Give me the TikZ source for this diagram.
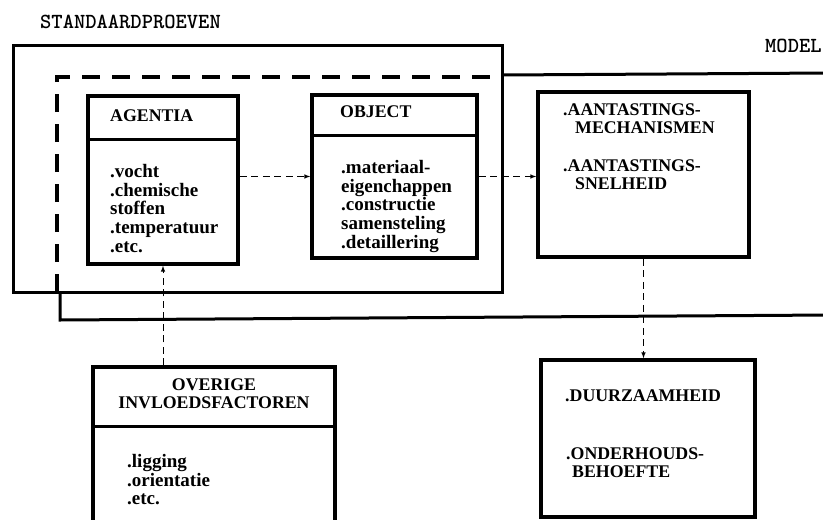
\documentclass[tikz,border=0pt]{standalone}
\usepackage{fontspec}
\setmainfont{Liberation Serif}
\usepackage{tikz}
\usetikzlibrary{arrows}
\usetikzlibrary{positioning}

\tikzset{
  blok/.style={draw, line width=3.5pt, inner sep=0pt},
  scheiding/.style={line width=2.5pt},
  kader/.style={line width=3pt},
  kop/.style={font=\fontsize{17.8}{17.5}\selectfont\bfseries, inner sep=0pt, align=left},
  lijst/.style={font=\fontsize{19}{18.7}\selectfont\bfseries, inner sep=0pt, align=left},
  etiket/.style={font=\fontsize{21.5}{21.5}\selectfont\ttfamily\bfseries, inner sep=0pt, anchor=base west},
  pijl/.style={line width=1pt, dash pattern=on 7pt off 4.5pt, -latex},
}

\begin{document}
\begin{tikzpicture}[x=1pt,y=-1pt]
    \clip (0,0) rectangle (823,520);
    % kaders standaardproeven en model
    \draw[kader] (13,45) rectangle (502,292);
    \draw[kader] (502,75) -- (830,73);
    \draw[kader] (60,292) -- (60,320) -- (830,315);
    \draw[line width=4pt, dash pattern=on 18pt off 12pt] (57,292) -- (57,77) -- (497,77);
    \node[etiket] (standaard) at (40,28) {STANDAARDPROEVEN};
    \node[etiket] (model) at (765,52) {MODEL};
    % blokken
    \node[blok, minimum width=150, minimum height=168] (agentia) at (163,180) {};
    \draw[scheiding] (agentia.north west) ++(0,45) -- ++(150,0);
    \node[blok, minimum width=165, minimum height=163] (object) at (394.5,176.5) {};
    \draw[scheiding] (object.north west) ++(0,42) -- ++(165,0);
    \node[blok, minimum width=211, minimum height=165] (aantast) at (643.5,174.5) {};
    \node[blok, minimum width=214, minimum height=157] (duurz) at (648,438.5) {};
    \node[blok, minimum width=242, minimum height=173] (overige) at (214,453.5) {};
    \draw[scheiding] (overige.north west) ++(0,61) -- ++(242,0);
    % teksten
    \node[kop, anchor=base west] (agentia-kop) at (110,121) {AGENTIA};
    \node[lijst, anchor=north west] (agentia-lijst) at (110,164)
      {.vocht\\.chemische\\stoffen\\.temperatuur\\.etc.};
    \node[kop, anchor=base west] (object-kop) at (340,117) {OBJECT};
    \node[lijst, anchor=north west] (object-lijst) at (341,160)
      {.materiaal-\\eigenchappen\\.constructie\\samensteling\\.detaillering};
    \node[kop, anchor=north west] (mech) at (563,104) {.AANTASTINGS-\\\hspace*{12pt}MECHANISMEN};
    \node[kop, anchor=north west] (snel) at (563,160) {.AANTASTINGS-\\\hspace*{12pt}SNELHEID};
    \node[kop, anchor=north west] (duurzaam) at (565,390) {.DUURZAAMHEID};
    \node[kop, anchor=north west] (onderhoud) at (566,448) {.ONDERHOUDS-\\\hspace*{6pt}BEHOEFTE};
    \node[kop, align=center, anchor=north] (overige-kop) at (214,379) {OVERIGE\\INVLOEDSFACTOREN};
    \node[lijst, anchor=north west] (overige-lijst) at (127,454)
      {.ligging\\.orientatie\\.etc.};
    % pijlen
    \draw[pijl] (agentia.east |- object.west) -- (object.west);
    \draw[pijl] (object.east) -- (object.east -| aantast.west);
    \draw[pijl] (aantast.south) -- (aantast.south |- duurz.north);
    \draw[pijl] (agentia.south |- overige.north) -- (agentia.south);
\end{tikzpicture}
\end{document}
